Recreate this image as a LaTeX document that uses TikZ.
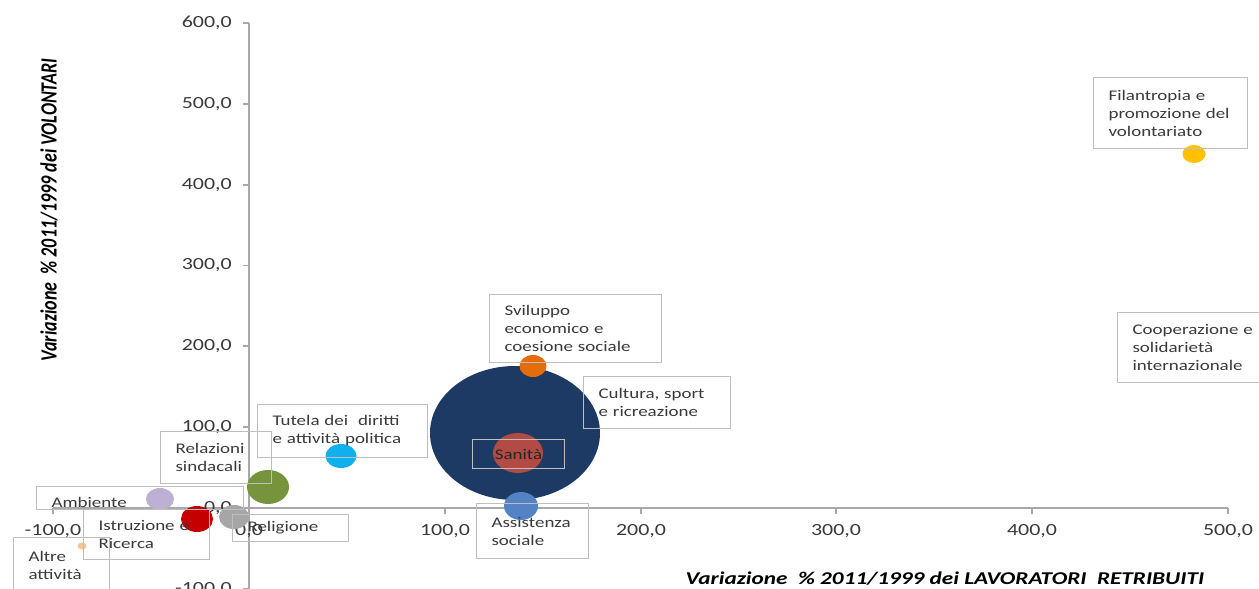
\documentclass[tikz,border=0pt]{standalone}
\usepackage{fontspec}
\setmainfont{Carlito}[FakeStretch=1.29]
\newfontfamily\ytitlefont{Carlito}
\definecolor{navy}{HTML}{1C3A63}
\definecolor{sanred}{HTML}{B24A45}
\definecolor{orng}{HTML}{E46C0A}
\definecolor{assblue}{HTML}{5383C4}
\definecolor{cyanb}{HTML}{10B0EE}
\definecolor{greenb}{HTML}{77933C}
\definecolor{lav}{HTML}{BDB0D3}
\definecolor{redb}{HTML}{C40000}
\definecolor{grayb}{HTML}{A6A6A6}
\definecolor{peach}{HTML}{F8C49A}
\definecolor{yel}{HTML}{FFC000}
\definecolor{axisc}{HTML}{A8A8A8}
\definecolor{boxc}{HTML}{BEBEBE}
\definecolor{txtc}{HTML}{3A3A3A}
\begin{document}
\begin{tikzpicture}[x=1pt,y=-1pt,
  axisline/.style={draw=axisc, line width=1.1pt},
  tickl/.style={font=\fontsize{17}{20}\selectfont, text=txtc, inner sep=0pt},
  lbl/.style={draw=boxc, line width=1.1pt, align=left, font=\fontsize{14.7}{18}\selectfont,
    text=txtc, inner xsep=15pt, inner ysep=0pt, anchor=north west},
  ttl/.style={font=\bfseries\itshape\fontsize{18}{22}\selectfont, text=black, inner sep=0pt}
]
\useasboundingbox (0,0) rectangle (1259,589);
\clip (0,0) rectangle (1259,589);
\fill[white] (0,0) rectangle (1259,589);

% axes
\draw[axisline] (53,508) -- (1228,508);
\draw[axisline] (249,23) -- (249,595);
\foreach \xx in {53,249,445,641,836,1032,1228} \draw[axisline] (\xx,508) -- (\xx,514);
\foreach \yy in {23,104,185,265.5,346,427,508,589} \draw[axisline] (243,\yy) -- (249,\yy);

% y tick labels
\node[tickl, anchor=east] (y600) at (232,23) {600,0};
\node[tickl, anchor=east] (y500) at (232,104) {500,0};
\node[tickl, anchor=east] (y400) at (232,185) {400,0};
\node[tickl, anchor=east] (y300) at (232,265.5) {300,0};
\node[tickl, anchor=east] (y200) at (232,346) {200,0};
\node[tickl, anchor=east] (y100) at (232,427) {100,0};
\node[tickl, anchor=east] (y0) at (232,508) {0,0};
\node[tickl, anchor=east] (ym100) at (232,589) {-100,0};

% x tick labels
\node[tickl] (xm100) at (53,531) {-100,0};
\node[tickl] (x0) at (249,531) {0,0};
\node[tickl] (x100) at (445,531) {100,0};
\node[tickl] (x200) at (641,531) {200,0};
\node[tickl] (x300) at (836,531) {300,0};
\node[tickl] (x400) at (1032,531) {400,0};
\node[tickl] (x500) at (1228,531) {500,0};

% axis titles
\node[ttl] (xtitle) at (945,579) {Variazione\ \ \% 2011/1999 dei LAVORATORI\ \ RETRIBUITI};
\node[inner sep=0pt, rotate=90] (ytitle) at (49,210)
  {\scalebox{1}[1.29]{\ytitlefont\bfseries\itshape\fontsize{18}{22}\selectfont Variazione\ \ \% 2011/1999 dei VOLONTARI}};

% bubbles
\fill[navy] (515,433) ellipse [x radius=85pt, y radius=67pt];
\fill[sanred] (518,453) ellipse [x radius=25pt, y radius=20pt];
\fill[orng] (533,366) ellipse [x radius=13.5pt, y radius=11pt];
\fill[assblue] (521,506) ellipse [x radius=17pt, y radius=14pt];
\fill[cyanb] (341,456) ellipse [x radius=15.5pt, y radius=12pt];
\fill[greenb] (268,487) ellipse [x radius=21pt, y radius=17pt];
\fill[lav] (160,499) ellipse [x radius=14pt, y radius=11pt];
\fill[redb] (197,519) ellipse [x radius=16pt, y radius=13pt];
\fill[grayb] (234,517) ellipse [x radius=15pt, y radius=12pt];
\fill[peach] (82,546) ellipse [x radius=4.5pt, y radius=3.5pt];
\fill[yel] (1194,154) ellipse [x radius=11.5pt, y radius=9pt];

% label boxes
\node[lbl, text width=124pt, minimum height=71pt] (fil) at (1093,77) {Filantropia e\\promozione del\\volontariato};
\node[lbl, text width=135pt, minimum height=70pt] (coop) at (1117,312) {Cooperazione e\\solidariet\`a\\internazionale};
\node[lbl, text width=142pt, minimum height=68pt] (svil) at (489,294) {Sviluppo\\economico e\\coesione sociale};
\node[lbl, text width=117pt, minimum height=52pt] (cult) at (583,376) {Cultura, sport\\e ricreazione};
\node[lbl, text width=62pt, minimum height=29pt, align=center, text=black!85] (san) at (472,439) {Sanit\`a};
\node[lbl, text width=82pt, minimum height=55pt] (ass) at (476,503) {Assistenza\\sociale};
\node[lbl, text width=140pt, minimum height=53pt] (tut) at (257,404) {Tutela dei\ \ diritti\\e attivit\`a politica};
\node[lbl, text width=81pt, minimum height=52pt] (rel) at (160,431) {Relazioni\\sindacali};
\node[lbl, text width=177pt, minimum height=23pt] (amb) at (36,486) {\raisebox{-4pt}[\height][\depth]{Ambiente}};
\node[lbl, text width=96pt, minimum height=50pt] (istr) at (83,509) {Istruzione e\\Ricerca};
\node[lbl, text width=86pt, minimum height=27pt] (relig) at (232,514) {Religione};
\node[lbl, text width=66pt, minimum height=55pt] (altre) at (13,537) {Altre\\attivit\`a};
\end{tikzpicture}
\end{document}
